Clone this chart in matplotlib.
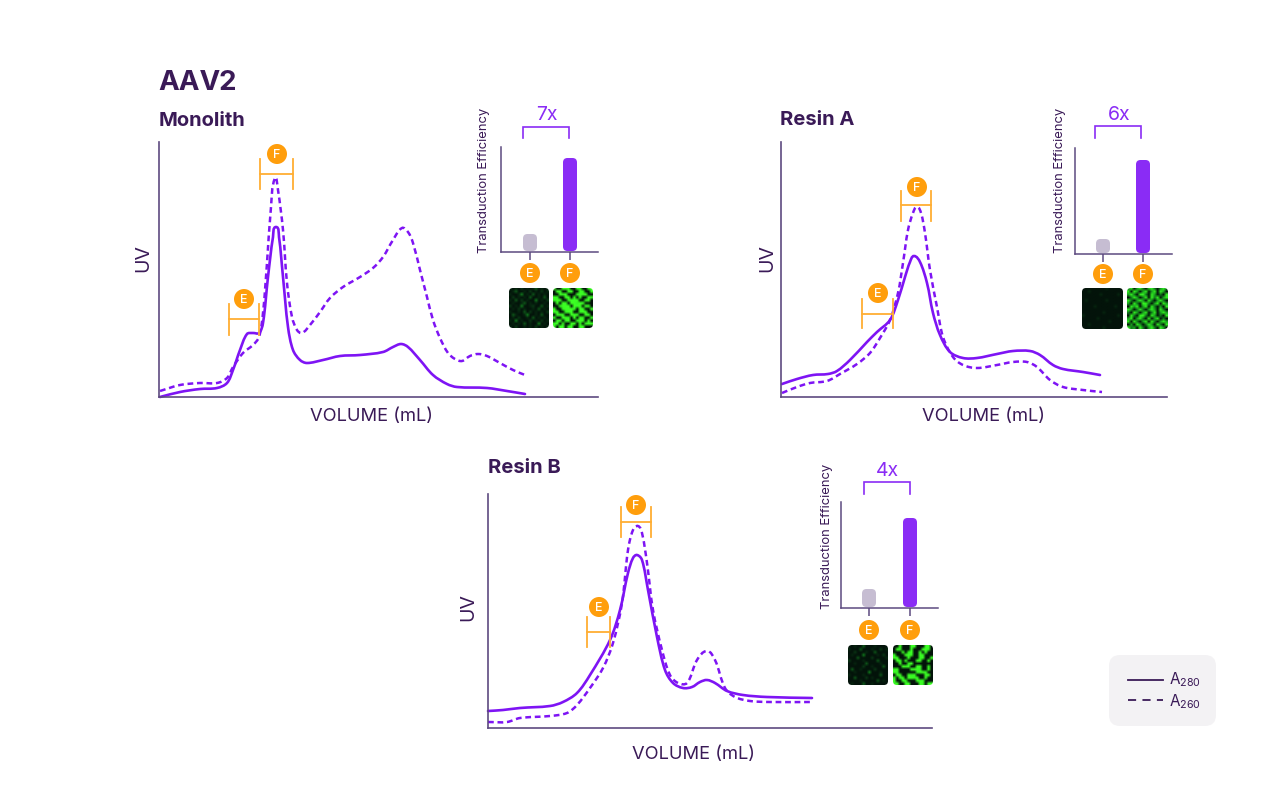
"""
plot.py  -  AAV2 elution profiles for three columns, with transduction insets.
"""
import numpy as np
import matplotlib
matplotlib.use("Agg")
import matplotlib.pyplot as plt
from matplotlib.colors import LinearSegmentedColormap
from matplotlib.patches import Circle, FancyBboxPatch, PathPatch
from matplotlib.path import Path

plt.rcParams["font.family"] = ["Inter", "DejaVu Sans"]
plt.rcParams["mathtext.default"] = "regular"

W, H = 1280, 804
PURPLE = "#7e14f4"
DARK = "#3a1a57"
AXIS = "#5d4a80"
ORANGE = "#ff9e0c"
BRACKET = "#ffae33"

# ---------- chromatograms (volume, UV height) ----------
mono_x_280 = [1, 21, 41, 58, 68, 74, 81, 88, 94, 100, 104, 109, 114, 117, 120, 124, 129,
              134, 141, 148, 164, 181, 201, 224, 234, 242, 249, 261, 274, 288, 298, 328, 348, 366]
mono_y_280 = [0, 5, 8, 9, 14, 27, 47, 63, 64, 64, 74, 120, 160, 170, 160, 120, 70,
              47, 37, 34, 37, 41, 42, 45, 50, 53, 50, 37, 22, 13, 10, 9, 6, 3]
mono_x_260 = [1, 21, 41, 58, 68, 74, 84, 94, 100, 104, 108, 112, 116, 119, 124, 128, 133, 138,
              143, 151, 161, 171, 184, 201, 214, 224, 234, 243, 249, 254, 261, 268, 274, 281,
              289, 296, 303, 311, 319, 328, 341, 354, 366]
mono_y_260 = [6, 12, 14, 14, 19, 30, 44, 52, 60, 84, 134, 190, 219, 207, 167, 114, 80, 67,
              64, 72, 85, 99, 110, 120, 129, 140, 157, 169, 165, 154, 127, 100, 77, 59,
              44, 38, 36, 41, 43, 41, 34, 27, 22]

resin_a_x_280 = [1, 16, 32, 47, 56, 69, 86, 96, 109, 117, 124, 129, 133, 139, 146, 152, 159,
                 169, 182, 196, 216, 232, 249, 259, 272, 282, 302, 319]
resin_a_y_280 = [13, 18, 22, 23, 26, 37, 55, 65, 77, 97, 120, 135, 141, 135, 114, 84, 62,
                 45, 39, 39, 43, 46, 46, 42, 32, 28, 25, 22]
resin_a_x_260 = [1, 16, 29, 46, 59, 76, 89, 99, 109, 117, 122, 127, 132, 136, 140, 144, 149,
                 156, 162, 172, 182, 196, 216, 232, 246, 256, 269, 282, 302, 321]
resin_a_y_260 = [4, 10, 14, 16, 23, 33, 44, 59, 77, 104, 134, 167, 184, 190, 184, 164, 127,
                 90, 60, 40, 32, 29, 32, 35, 35, 30, 17, 10, 7, 5]

resin_b_x_280 = [0, 15, 32, 62, 75, 89, 102, 122, 132, 140, 145, 149, 154, 160, 169, 177, 185,
                 195, 204, 212, 219, 227, 239, 255, 279, 324]
resin_b_y_280 = [17, 18, 20, 22, 26, 35, 53, 88, 118, 155, 170, 173, 168, 138, 91, 58, 45,
                 40, 41, 46, 48, 45, 37, 33, 31, 30]
resin_b_x_260 = [0, 19, 32, 62, 79, 89, 102, 115, 125, 134, 140, 145, 150, 154, 159, 165, 174,
                 182, 190, 199, 209, 219, 227, 237, 247, 262, 282, 324]
resin_b_y_260 = [6, 6, 10, 12, 15, 23, 40, 60, 85, 125, 178, 198, 202, 195, 165, 118, 78,
                 53, 45, 45, 68, 77, 68, 40, 31, 27, 26, 26]

# ---------- inset bars ----------
bar_labels = ["E", "F"]
mono_eff = [17, 93]
resin_a_eff = [14, 93]
resin_b_eff = [18, 89]
fold_labels = ["7x", "6x", "4x"]

# ---------- fluorescence micrographs, brightness 0-9 on a coarse grid ----------
mono_img_e = ["10102010130101", "01300102010201", "10014010301010", "02010103001030",
              "10302010040102", "01001301010010", "20104001200301", "01020100103010",
              "10010302010102", "03100140010300", "01020010301010", "10401002010201",
              "01010301004010", "10200101020101"]
mono_img_f = ["90099800980099", "09900990098009", "00989000899900", "98009908090098",
              "89900899900890", "09098099899000", "00899909990980", "90089998099009",
              "99008990089900", "08990099900990", "80099809098008", "09908900899090",
              "99080099080899", "80990890099000"]
resin_a_img_e = ["00000000100000", "00100000000000", "00000010000010", "00000000000000",
                 "01000000100000", "00000000000000", "00001000000100", "00000000000000",
                 "00000001000000", "10000000000010", "00000100000000", "00000000010000",
                 "00100000000000", "00000001000000"]
resin_a_img_f = ["47057406740574", "70750570570750", "57407840750407", "04750470847057",
                 "74057507405740", "50740874057075", "07570570740507", "75047405750740",
                 "40750570470575", "07407840750407", "57057407057040", "70740570740575",
                 "05075047507407", "74507405740750"]
resin_b_img_e = ["00100300010000", "10003000100201", "00200010030000", "01000400001020",
                 "00030000200001", "20000100003000", "00100030000100", "00000200100030",
                 "03001000020000", "00100004000100", "10000100000300", "00300020100000",
                 "00001000003010", "01000300100000"]
resin_b_img_f = ["00900099000990", "09800080009980", "00090890090900", "80009980098000",
                 "99000900089009", "09908000990090", "00900890000000", "00098900990080",
                 "89000099980090", "98000000899800", "09900989000990", "80890998900800",
                 "90098000899000", "89009900098099"]

GREEN = LinearSegmentedColormap.from_list(
    "micro", ["#03130a", "#0a3a15", "#128a1e", "#2ee81f", "#3cff24"])

panels = [
    dict(title="Monolith", title_xy=(159, 120), ax=(159, 143, 598, 398), vol_x=372, uv_x=143, uv_y=257,
         x280=mono_x_280, y280=mono_y_280, x260=mono_x_260, y260=mono_y_260,
         f=(260, 293, 174, 159, 189, 277, 154), e=(229, 259, 319, 304, 335, 244, 299),
         inset=(501, 148, 598, 253), bar_x=(29, 69), eff=mono_eff, fold=fold_labels[0],
         br=(523, 569, 127, 138), fold_xy=(547, 114), lab=(484, 179), circ_y=273,
         img=(288, 328), img_x=(509, 553), imgs=(mono_img_e, mono_img_f)),
    dict(title="Resin A", title_xy=(780, 119), ax=(781, 143, 1167, 398), vol_x=983, uv_x=767, uv_y=257,
         x280=resin_a_x_280, y280=resin_a_y_280, x260=resin_a_x_260, y260=resin_a_y_260,
         f=(901, 931, 205, 191, 221, 917, 187), e=(862, 893, 314, 299, 328, 878, 293),
         inset=(1075, 149, 1172, 255), bar_x=(28, 68), eff=resin_a_eff, fold=fold_labels[1],
         br=(1095, 1141, 126, 138), fold_xy=(1119, 114), lab=(1060, 179), circ_y=274,
         img=(288, 329), img_x=(1082, 1127), imgs=(resin_a_img_e, resin_a_img_f)),
    dict(title="Resin B", title_xy=(488, 467), ax=(488, 495, 932, 729), vol_x=693, uv_x=468, uv_y=606,
         x280=resin_b_x_280, y280=resin_b_y_280, x260=resin_b_x_260, y260=resin_b_y_260,
         f=(621, 651, 522, 507, 537, 636, 505), e=(587, 610, 632, 617, 647, 599, 607),
         inset=(841, 503, 938, 609), bar_x=(28, 69), eff=resin_b_eff, fold=fold_labels[2],
         br=(864, 910, 482, 494), fold_xy=(887, 470), lab=(827, 535), circ_y=630,
         img=(645, 685), img_x=(848, 893), imgs=(resin_b_img_e, resin_b_img_f)),
]


def smooth_path(x, y):
    # bezier through the read points, tangents along the neighbouring chord
    p = np.column_stack([x, y]).astype(float)
    d = np.zeros_like(p)
    d[1:-1] = p[2:] - p[:-2]
    d[0], d[-1] = p[1] - p[0], p[-1] - p[-2]
    d /= np.linalg.norm(d, axis=1, keepdims=True)
    verts, codes = [p[0]], [Path.MOVETO]
    for i in range(len(p) - 1):
        s = np.linalg.norm(p[i + 1] - p[i]) / 3
        verts += [p[i] + d[i] * s, p[i + 1] - d[i + 1] * s, p[i + 1]]
        codes += [Path.CURVE4] * 3
    return Path(verts, codes)


def px_axes(fig, left, top, right, bottom):
    return fig.add_axes([left / W, 1 - bottom / H, (right - left) / W, (bottom - top) / H])


def style_axes(ax, lw):
    for side in ("top", "right"):
        ax.spines[side].set_visible(False)
    for side in ("left", "bottom"):
        ax.spines[side].set_color(AXIS)
        ax.spines[side].set_linewidth(lw)
    ax.set_xticks([])
    ax.set_yticks([])
    ax.patch.set_alpha(0)


def badge(ov, x, y, letter):
    ov.add_patch(Circle((x, y), 10, fc=ORANGE, ec="none", zorder=6))
    ov.text(x, y + 0.3, letter, color="white", fontsize=9, fontweight="medium",
            ha="center", va="center", zorder=7)


def fraction_bracket(ov, x0, x1, y, top, bot, cx, cy, letter):
    ov.plot([x0, x1], [y, y], color=BRACKET, lw=1.3, zorder=5)
    ov.plot([x0, x0], [top, bot], color=BRACKET, lw=1.3, zorder=5)
    ov.plot([x1, x1], [top, bot], color=BRACKET, lw=1.3, zorder=5)
    badge(ov, cx, cy, letter)


def micrograph(ov, rows, x0, y0, size=40):
    grid = np.array([[int(c) for c in r] for r in rows])
    im = ov.imshow(grid, cmap=GREEN, vmin=0, vmax=9, extent=(x0, x0 + size, y0 + size, y0),
                   interpolation="bilinear", aspect="auto", zorder=4)
    clip = FancyBboxPatch((x0, y0), size, size, boxstyle="round,pad=0,rounding_size=4",
                          transform=ov.transData, fc="none", ec="none")
    ov.add_patch(clip)
    im.set_clip_path(clip)


def main():
    fig = plt.figure(figsize=(W / 100, H / 100), dpi=100, facecolor="white")

    # overlay in picture pixels for labels and annotations
    ov = fig.add_axes([0, 0, 1, 1], zorder=10)
    ov.axis("off")

    # the gap in the heading is narrower than any space glyph, so two pieces
    ov.text(158, 89, "AAV", color=DARK, fontsize=20, fontweight="bold", va="baseline")
    ov.text(218, 89, "2", color=DARK, fontsize=20, fontweight="bold", va="baseline")

    for pn in panels:
        left, top, right, bottom = pn["ax"]
        ax = px_axes(fig, left, top, right, bottom)
        ax.set_xlim(0, right - left)
        ax.set_ylim(0, bottom - top)
        style_axes(ax, 1.2)
        ax.add_patch(PathPatch(smooth_path(pn["x280"], pn["y280"]), fc="none", ec=PURPLE,
                               lw=1.9, clip_on=False, capstyle="round"))
        ax.add_patch(PathPatch(smooth_path(pn["x260"], pn["y260"]), fc="none", ec=PURPLE,
                               lw=1.8, ls=(0, (2.3, 1.5)), clip_on=False))

        ov.text(pn["title_xy"][0], pn["title_xy"][1], pn["title"], color=DARK, fontsize=14.5,
                fontweight="bold", va="center")
        ov.text(pn["vol_x"], (416 if bottom < 500 else 754), "VOLUME (mL)", color=DARK,
                fontsize=13.2, ha="center", va="center")
        ov.text(pn["uv_x"], pn["uv_y"], "UV", color=DARK, fontsize=14, rotation=90,
                ha="center", va="center")

        fraction_bracket(ov, *pn["f"], "F")
        fraction_bracket(ov, *pn["e"], "E")

        # transduction inset
        il, it, ir, ib = pn["inset"]
        inset = px_axes(fig, il, it, ir, ib)
        inset.set_xlim(0, ir - il)
        inset.set_ylim(0, ib - it)
        style_axes(inset, 1.1)
        inset.set_xticks(pn["bar_x"])
        inset.set_xticklabels([])
        inset.tick_params(axis="x", length=6, width=1.1, color=AXIS)
        cols = ["#c6bdd2", "#8a2cf5"]
        for bx, val, col in zip(pn["bar_x"], pn["eff"], cols):
            inset.add_patch(FancyBboxPatch((bx - 7, 1), 14, val, fc=col, ec="none",
                                           boxstyle="round,pad=0,rounding_size=4.5"))
        for bx, letter in zip(pn["bar_x"], bar_labels):
            badge(ov, il + bx, pn["circ_y"], letter)

        x0, x1, ytop, ybot = pn["br"]
        ov.plot([x0, x0, x1, x1], [ybot, ytop, ytop, ybot], color="#8a2cf5", lw=1.2,
                solid_joinstyle="miter")
        ov.text(pn["fold_xy"][0], pn["fold_xy"][1], pn["fold"], color="#8a2cf5", fontsize=14,
                ha="center", va="center")
        ov.text(pn["lab"][0], pn["lab"][1], "Transduction Efficiency", color=DARK, fontsize=9.4,
                rotation=90, ha="center", va="center")

        for x_img, rows in zip(pn["img_x"], pn["imgs"]):
            micrograph(ov, rows, x_img, pn["img"][0], size=pn["img"][1] - pn["img"][0])

    # legend card
    ov.add_patch(FancyBboxPatch((1109, 655), 107, 71, boxstyle="round,pad=0,rounding_size=11",
                                fc="#f3f2f4", ec="none"))
    ov.plot([1128, 1163], [680, 680], color=DARK, lw=1.3)
    ov.plot([1128, 1163], [700, 700], color=DARK, lw=1.3, ls=(0, (4.5, 3.5)))
    ov.text(1169, 679, "A$_{280}$", color=DARK, fontsize=11, va="center")
    ov.text(1169, 701, "A$_{260}$", color=DARK, fontsize=11, va="center")

    ov.set_xlim(0, W)
    ov.set_ylim(H - 1, -1)

    fig.savefig("out.png", dpi=100)


if __name__ == "__main__":
    main()
